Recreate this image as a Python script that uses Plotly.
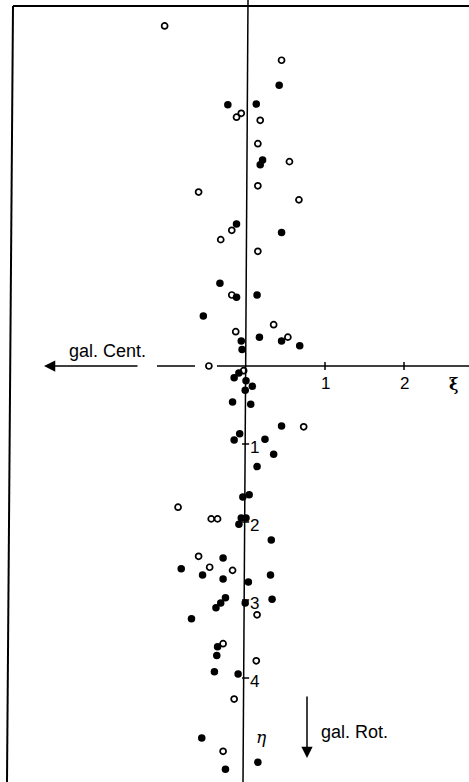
import plotly.graph_objects as go

# filled circles (xi, eta); eta increases downward
filled_xi = [0.42, -0.23, 0.13, 0.21, 0.18, -0.12, 0.45, -0.33, -0.12, 0.14,
             -0.54, -0.06, 0.17, 0.45, 0.68, -0.05, -0.09, -0.15, 0.00, 0.08,
             -0.01, -0.17, 0.06, 0.45, -0.08, -0.15, 0.24, 0.35, 0.14, 0.04,
             -0.04, -0.06, 0.00, -0.09, 0.32, -0.29, -0.82, -0.55, -0.29, 0.03,
             0.31, -0.26, -0.32, -0.38, 0.33, -0.01, -0.69, -0.36, -0.37, -0.40,
             -0.10, -0.56, 0.15, -0.26]
filled_eta = [-3.60, -3.35, -3.36, -2.64, -2.58, -1.82, -1.71, -1.06, -0.88, -0.91,
              -0.64, -0.32, -0.37, -0.32, -0.26, -0.21, 0.09, 0.15, 0.19, 0.26,
              0.31, 0.46, 0.49, 0.77, 0.87, 0.95, 0.94, 1.13, 1.29, 1.65,
              1.68, 1.95, 1.95, 2.03, 2.23, 2.46, 2.60, 2.68, 2.73, 2.77,
              2.68, 2.97, 3.04, 3.10, 2.99, 3.04, 3.24, 3.60, 3.71, 3.92,
              3.95, 4.77, 5.08, 5.17]

# open circles
open_xi = [-1.03, 0.45, -0.06, -0.12, 0.18, 0.15, 0.55, 0.15, -0.60, 0.67,
           -0.18, -0.32, 0.15, -0.18, 0.35, -0.13, 0.53, -0.47, -0.03, 0.73,
           -0.86, -0.44, -0.36, -0.60, -0.46, -0.17, 0.14, -0.29, 0.13, -0.15,
           -0.29]
open_eta = [-4.36, -3.92, -3.24, -3.19, -3.15, -2.85, -2.62, -2.31, -2.23, -2.13,
            -1.74, -1.62, -1.47, -0.91, -0.53, -0.44, -0.37, 0.00, 0.06, 0.78,
            1.81, 1.96, 1.96, 2.44, 2.58, 2.62, 3.19, 3.56, 3.78, 4.27,
            4.94]

xi_ticks = [1, 2]
eta_ticks = [1, 2, 3, 4]
xi_tick_labels = ["1", "2"]
eta_tick_labels = ["1", "2", "3", "4"]

W, H = 469, 782
OX, OY = 246, 366      # pixel position of origin
SX, SY = 79.0, 78.0    # pixels per unit

def px2xi(p):
    return (p - OX) / SX

def px2eta(p):
    return (p - OY) / SY

XR = [px2xi(0), px2xi(W)]
YR = [px2eta(H), px2eta(0)]  # reversed: eta downward

fig = go.Figure()

fig.add_trace(go.Scatter(
    x=filled_xi, y=filled_eta, mode="markers",
    marker=dict(symbol="circle", size=7.5, color="black"),
    showlegend=False, hoverinfo="skip"))
fig.add_trace(go.Scatter(
    x=open_xi, y=open_eta, mode="markers",
    marker=dict(symbol="circle-open", size=6, color="black",
                line=dict(width=1.7, color="black")),
    showlegend=False, hoverinfo="skip"))

shapes = []
def seg(x0, y0, x1, y1, w=1.5):
    shapes.append(dict(type="line", xref="x", yref="y", x0=x0, y0=y0, x1=x1, y1=y1,
                       line=dict(color="black", width=w), layer="below"))

# frame
seg(px2xi(13), px2eta(6), px2xi(W), px2eta(6), 2)
seg(px2xi(13), px2eta(6), px2xi(7), px2eta(H), 2)
# axes
seg(px2xi(248), px2eta(0), px2xi(243), px2eta(H), 1.5)
seg(px2xi(157), 0, px2xi(195), 0, 1.5)
seg(px2xi(217), 0, px2xi(W), 0, 1.5)
# ticks
for t in xi_ticks:
    seg(t, -0.05, t, 0.05, 1.5)
for t in eta_ticks:
    seg(-0.05, t, 0.04, t, 1.5)

annotations = []
FONT = "Liberation Sans"
for t, lab in zip(xi_ticks, xi_tick_labels):
    annotations.append(dict(x=t, y=0.22, xref="x", yref="y", text=lab, showarrow=False,
                            font=dict(family=FONT, size=17, color="black")))
for t, lab in zip(eta_ticks, eta_tick_labels):
    annotations.append(dict(x=0.03, y=t + 0.04, xref="x", yref="y", text=lab, showarrow=False,
                            xanchor="left", font=dict(family=FONT, size=17, color="black")))
annotations.append(dict(x=px2xi(453), y=px2eta(384), xref="x", yref="y", text="<b>ξ</b>",
                        showarrow=False, font=dict(family="DejaVu Serif", size=16, color="black")))
annotations.append(dict(x=px2xi(261), y=px2eta(737), xref="x", yref="y", text="<i>η</i>",
                        showarrow=False, font=dict(family="DejaVu Serif", size=17, color="black")))
annotations.append(dict(x=px2xi(107), y=px2eta(351), xref="x", yref="y", text="gal. Cent.",
                        showarrow=False, font=dict(family=FONT, size=18, color="black")))
annotations.append(dict(x=px2xi(319), y=px2eta(732), xref="x", yref="y", text="gal. Rot.",
                        xanchor="left", showarrow=False,
                        font=dict(family=FONT, size=18, color="black")))
# arrows
annotations.append(dict(x=px2xi(44), y=0, ax=px2xi(139), ay=0, xref="x", yref="y",
                        axref="x", ayref="y", text="", showarrow=True, arrowhead=2,
                        arrowsize=1.5, arrowwidth=1.5, arrowcolor="black"))
annotations.append(dict(x=px2xi(307), y=px2eta(758), ax=px2xi(307), ay=px2eta(695),
                        xref="x", yref="y", axref="x", ayref="y", text="", showarrow=True,
                        arrowhead=2, arrowsize=1.5, arrowwidth=1.5, arrowcolor="black"))

fig.update_layout(
    width=W, height=H, margin=dict(l=0, r=0, t=0, b=0),
    paper_bgcolor="white", plot_bgcolor="white",
    xaxis=dict(range=XR, visible=False, fixedrange=True),
    yaxis=dict(range=YR, visible=False, fixedrange=True),
    shapes=shapes, annotations=annotations,
)

fig.write_html("out.html", config={"displayModeBar": False},
               post_script="document.body.style.margin='0';document.body.style.overflow='hidden';")
